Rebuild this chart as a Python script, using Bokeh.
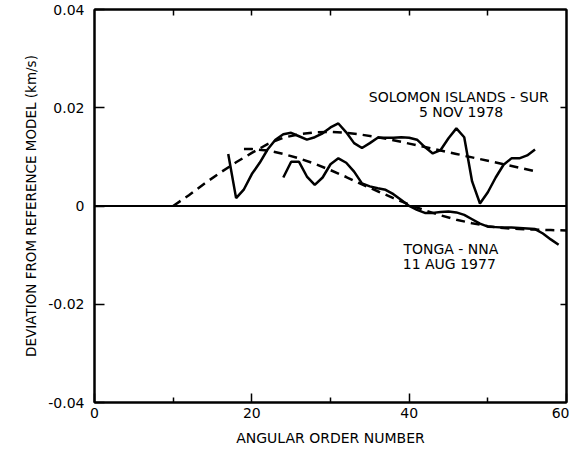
from bokeh.plotting import figure
from bokeh.models import (LinearAxis, FixedTicker, Range1d, Span, Label,
                          CustomLabelingPolicy)
from bokeh.embed import file_html
from bokeh.resources import INLINE

# Phase-velocity deviation versus angular order for two great-circle paths
solomon_order = list(range(17, 57))
solomon_dev = [0.0106, 0.0016, 0.0034, 0.0065, 0.0088, 0.0115, 0.0135, 0.0146,
               0.0149, 0.0142, 0.0135, 0.0140, 0.0148, 0.0160, 0.0168, 0.0150,
               0.0128, 0.0118, 0.0128, 0.0139, 0.0139, 0.0139, 0.0140, 0.0139,
               0.0135, 0.0120, 0.0107, 0.0114, 0.0138, 0.0158, 0.0140, 0.0050,
               0.0005, 0.0028, 0.0058, 0.0084, 0.0097, 0.0097, 0.0103, 0.0115]

solomon_model_order = [10, 12, 14, 16, 18, 20, 22, 24, 26, 28, 30, 32, 34, 36,
                       38, 40, 42, 44, 46, 48, 50, 52, 54, 56]
solomon_model_dev = [0.0000, 0.0022, 0.0046, 0.0068, 0.0089, 0.0108, 0.0126,
                     0.0139, 0.0146, 0.0150, 0.0151, 0.0149, 0.0145, 0.0140,
                     0.0134, 0.0127, 0.0120, 0.0113, 0.0106, 0.0099, 0.0092,
                     0.0085, 0.0078, 0.0071]

tonga_order = list(range(24, 60))
tonga_dev = [0.0058, 0.0090, 0.0090, 0.0060, 0.0043, 0.0058, 0.0085, 0.0097,
             0.0088, 0.0070, 0.0046, 0.0040, 0.0036, 0.0033, 0.0024, 0.0012,
             0.0000, -0.0008, -0.0014, -0.0014, -0.0012, -0.0011, -0.0013,
             -0.0018, -0.0027, -0.0036, -0.0042, -0.0043, -0.0044, -0.0044,
             -0.0045, -0.0046, -0.0047, -0.0056, -0.0068, -0.0079]

tonga_model_order = [19, 20, 22, 24, 26, 28, 30, 32, 34, 36, 38, 40, 42, 44,
                     46, 48, 50, 52, 54, 56, 58, 60]
tonga_model_dev = [0.0116, 0.0116, 0.0113, 0.0106, 0.0097, 0.0086, 0.0073,
                   0.0059, 0.0044, 0.0030, 0.0016, 0.0003, -0.0009, -0.0019,
                   -0.0028, -0.0035, -0.0041, -0.0045, -0.0047, -0.0048,
                   -0.0049, -0.0050]

x_ticks = [0, 20, 40, 60]
x_minor = [10, 30, 50]
y_ticks = [-0.04, -0.02, 0.0, 0.02, 0.04]
y_tick_labels = ["-0.04", "-0.02", "0", "0.02", "0.04"]

FONT = "DejaVu Sans"

p = figure(width=569, height=449, output_backend="svg", toolbar_location=None,
           x_range=Range1d(0, 60), y_range=Range1d(-0.04, 0.04),
           x_axis_location=None, y_axis_location=None,
           min_border_left=94, min_border_right=3, min_border_top=9,
           min_border_bottom=47)
p.background_fill_color = "white"
p.border_fill_color = "white"
p.grid.visible = False
p.outline_line_color = "black"
p.outline_line_width = 2

xt = FixedTicker(ticks=x_ticks, minor_ticks=x_minor)
yt = FixedTicker(ticks=y_ticks, minor_ticks=[])

bottom = LinearAxis(ticker=xt, axis_label="ANGULAR ORDER NUMBER")
left = LinearAxis(ticker=yt, axis_label="DEVIATION FROM REFERENCE MODEL (km/s)")
left.major_label_overrides = {t: s for t, s in zip(y_ticks, y_tick_labels)}
top = LinearAxis(ticker=FixedTicker(ticks=x_minor + [20, 40], minor_ticks=[]))
right = LinearAxis(ticker=FixedTicker(ticks=[-0.02, 0.02], minor_ticks=[]))

for ax in (bottom, left, top, right):
    ax.axis_line_color = "black"
    ax.axis_line_width = 2
    ax.major_tick_line_color = "black"
    ax.major_tick_line_width = 1.5
    ax.minor_tick_line_color = "black"
    ax.minor_tick_line_width = 1.5
    ax.major_tick_out = 0
    ax.minor_tick_out = 0
    ax.major_label_text_font = FONT
    ax.major_label_text_font_size = "14px"
    ax.major_label_text_color = "black"
    ax.axis_label_text_font = FONT
    ax.axis_label_text_font_size = "14px"
    ax.axis_label_text_font_style = "normal"
    ax.axis_label_text_color = "black"

bottom.major_tick_in = 9
bottom.minor_tick_in = 5
bottom.major_label_standoff = 5
bottom.axis_label_standoff = 9
left.major_tick_in = 10
left.major_label_standoff = 10
left.axis_label_standoff = 6
left.axis_label_text_font_size = "13.5px"

# frame ticks on the top and right edges carry no labels
for ax in (top, right):
    ax.major_tick_in = 6
    ax.major_label_text_font_size = "0px"
    ax.major_label_standoff = 0
    ax.major_label_policy = CustomLabelingPolicy(code="return []")

p.add_layout(bottom, "below")
p.add_layout(left, "left")
p.add_layout(top, "above")
p.add_layout(right, "right")

p.add_layout(Span(location=0, dimension="width", line_color="black",
                  line_width=2))

p.line(solomon_model_order, solomon_model_dev, line_color="black",
       line_width=2.5, line_dash="9 6")
p.line(tonga_model_order, tonga_model_dev, line_color="black",
       line_width=2.5, line_dash="9 6")
p.line(solomon_order, solomon_dev, line_color="black", line_width=2.5)
p.line(tonga_order, tonga_dev, line_color="black", line_width=2.5)

labels = [
    ("SOLOMON ISLANDS - SUR", 46.3, 0.0222),
    ("5 NOV 1978", 46.6, 0.0191),
    ("TONGA - NNA", 45.3, -0.0087),
    ("11 AUG 1977", 45.1, -0.0119),
]
for txt, lx, ly in labels:
    p.add_layout(Label(x=lx, y=ly, text=txt, text_align="center",
                       text_baseline="middle", text_font=FONT,
                       text_font_size="14px", text_color="black"))

open("out.html", "w").write(file_html(p, INLINE))
